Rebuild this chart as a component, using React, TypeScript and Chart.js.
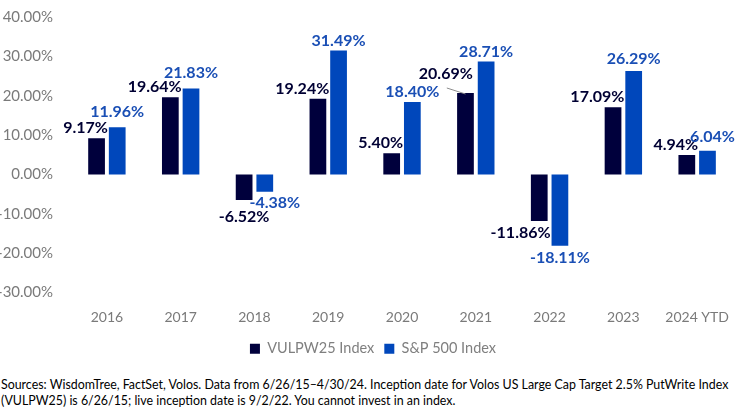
import React, { useEffect, useRef } from "react";
import { Chart, registerables } from "chart.js";

Chart.register(...registerables);

const categories = ["2016", "2017", "2018", "2019", "2020", "2021", "2022", "2023", "2024 YTD"];
const vulpwValues = [9.17, 19.64, -6.52, 19.24, 5.4, 20.69, -11.86, 17.09, 4.94];
const spValues = [11.96, 21.83, -4.38, 31.49, 18.4, 28.71, -18.11, 26.29, 6.04];
const seriesNames = ["VULPW25 Index", "S&P 500 Index"];
const yTicks = [-30, -20, -10, 0, 10, 20, 30, 40];
const footnote = [
  "Sources: WisdomTree, FactSet, Volos. Data from 6/26/15\u20134/30/24. Inception date for Volos US Large Cap Target 2.5% PutWrite Index",
  "(VULPW25) is 6/26/15; live inception date is 9/2/22. You cannot invest in an index.",
];

const DARK = "#00003c";
const BLUE = "#0047bb";
const FONT = "Lato, 'Open Sans', sans-serif";

type Tweak = { dx?: number; dy?: number; align?: CanvasTextAlign; leader?: boolean };

const darkTweaks: Record<string, Tweak> = {
  "2018": { align: "center", dx: 0, dy: 5 },
  "2021": { dx: -4, dy: -9, leader: true },
};
const blueTweaks: Record<string, Tweak> = {
  "2016": { dy: -6 },
  "2017": { dy: -6 },
  "2018": { dx: 10, dy: -1 },
  "2023": { dy: -2 },
  "2024 YTD": { dx: 5, dy: -4 },
};

const labelPlugin = {
  id: "barValueLabels",
  afterDatasetsDraw(chart: any) {
    const ctx = chart.ctx as CanvasRenderingContext2D;
    ctx.save();
    ctx.font = `bold 16px ${FONT}`;
    ctx.textBaseline = "middle";
    chart.data.datasets.forEach((ds: any, di: number) => {
      const meta = chart.getDatasetMeta(di);
      meta.data.forEach((bar: any, i: number) => {
        const v = ds.data[i] as number;
        const cat = chart.data.labels[i] as string;
        const props = bar.getProps(["x", "y", "base", "width"], true);
        const top = Math.min(props.y, props.base);
        const bottom = Math.max(props.y, props.base);
        const text = v.toFixed(2) + "%";
        let align: CanvasTextAlign;
        let x: number;
        let y: number;
        const tw = (di === 0 ? darkTweaks : blueTweaks)[cat] || {};
        if (di === 0) {
          align = tw.align || "right";
          x = align === "right" ? props.x + props.width / 2 + 3 : props.x;
        } else {
          align = tw.align || "center";
          x = props.x;
        }
        y = v >= 0 ? top - 10 : bottom + 12;
        x += tw.dx || 0;
        y += tw.dy || 0;
        ctx.textAlign = align;
        ctx.fillStyle = di === 0 ? "#000033" : "#1a4fb5";
        ctx.fillText(text, x, y);
        if (tw.leader) {
          const w = ctx.measureText(text).width;
          const cx = align === "right" ? x - w / 2 : x;
          ctx.beginPath();
          ctx.strokeStyle = "#8c8c8c";
          ctx.lineWidth = 1;
          ctx.moveTo(cx + 1, y + 14);
          ctx.lineTo(props.x, top + 1);
          ctx.stroke();
        }
      });
    });
    ctx.restore();
  },
};

export default function App() {
  const ref = useRef<HTMLCanvasElement | null>(null);

  useEffect(() => {
    if (!ref.current) return;
    const chart = new Chart(ref.current, {
      type: "bar",
      data: {
        labels: categories,
        datasets: [
          {
            label: seriesNames[0],
            data: vulpwValues,
            backgroundColor: DARK,
            categoryPercentage: 0.56,
            barPercentage: 0.81,
          },
          {
            label: seriesNames[1],
            data: spValues,
            backgroundColor: BLUE,
            categoryPercentage: 0.56,
            barPercentage: 0.81,
          },
        ],
      },
      options: {
        responsive: false,
        animation: false,
        devicePixelRatio: 1,
        layout: { padding: { top: 17, right: 0, left: 0, bottom: 0 } },
        plugins: {
          legend: {
            position: "bottom",
            labels: {
              boxWidth: 10,
              boxHeight: 10,
              color: "#7f7f7f",
              font: { family: FONT, size: 14.5 },
              padding: 10,
            },
          },
          tooltip: { enabled: false },
        },
        scales: {
          x: {
            grid: { display: false, drawTicks: false },
            border: { display: false },
            ticks: {
              color: "#7a7a7a",
              font: { family: FONT, size: 14 },
              padding: 17,
            },
            afterFit: (scale: any) => {
              scale.height = 39;
            },
          },
          y: {
            min: -30,
            max: 40,
            afterBuildTicks: (scale: any) => {
              scale.ticks = yTicks.map((v) => ({ value: v }));
            },
            grid: { display: false, drawTicks: false },
            border: { display: false },
            ticks: {
              color: "#7a7a7a",
              font: { family: FONT, size: 15 },
              padding: 17,
              callback: (v: any) => Number(v).toFixed(2) + "%",
            },
            afterFit: (scale: any) => {
              scale.width = 70;
              scale.paddingTop = 9;
              scale.paddingBottom = 9;
            },
          },
        },
      },
      plugins: [labelPlugin],
    });
    return () => chart.destroy();
  }, []);

  return (
    <div style={{ position: "fixed", left: 0, top: 0, width: 746, height: 414, background: "#fff" }}>
      <canvas ref={ref} width={746} height={366} style={{ width: 746, height: 366, display: "block" }} />
      <div
        style={{
          position: "absolute",
          left: 1,
          top: 377,
          fontFamily: FONT,
          fontSize: 12.4,
          lineHeight: "16px",
          color: "#000",
          whiteSpace: "nowrap",
        }}
      >
        {footnote.map((line, i) => (
          <div key={i}>{line}</div>
        ))}
      </div>
    </div>
  );
}
